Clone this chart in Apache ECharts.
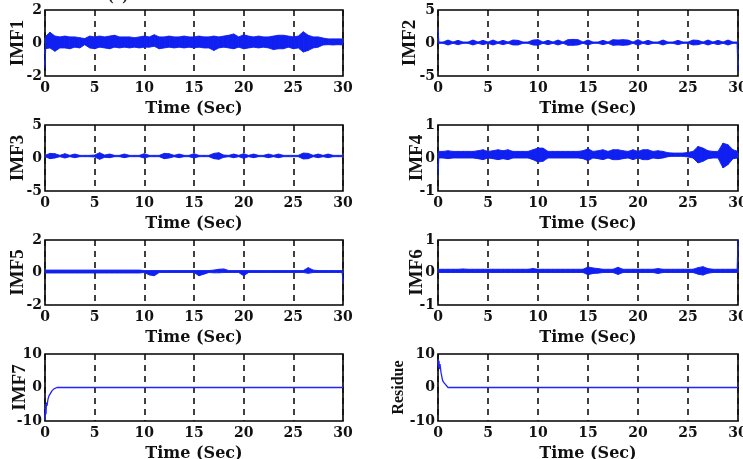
<!DOCTYPE html>
<html>
<head>
<meta charset="utf-8">
<script src="https://cdn.jsdelivr.net/npm/echarts@6/dist/echarts.min.js"></script>
<style>
  html, body { margin: 0; padding: 0; background: #fff; }
  #chart { width: 743px; height: 459px; }
</style>
</head>
<body>
<div id="chart"></div>
<script>
// Envelope sample spacing (seconds) of the oscillatory components, 0 … 30 s
const envStep = 0.5;

// IMF1 upper / lower envelope
const imf1Upper = [0.37, 0.65, 0.42, 0.37, 0.42, 0.37, 0.37, 0.32, 0.27, 0.42,
  0.37, 0.42, 0.37, 0.42, 0.47, 0.37, 0.37, 0.37, 0.32, 0.37,
  0.42, 0.37, 0.5, 0.37, 0.37, 0.42, 0.37, 0.37, 0.42, 0.37,
  0.37, 0.42, 0.37, 0.37, 0.42, 0.37, 0.42, 0.47, 0.55, 0.37,
  0.5, 0.42, 0.37, 0.42, 0.37, 0.37, 0.42, 0.47, 0.47, 0.42,
  0.37, 0.42, 0.68, 0.47, 0.37, 0.37, 0.3, 0.25, 0.25, 0.25, 0.25];
const imf1Lower = [-0.35, -0.3, -0.5, -0.3, -0.3, -0.35, -0.25, -0.3, -0.1, -0.3,
  -0.35, -0.25, -0.3, -0.35, -0.25, -0.3, -0.25, -0.3, -0.25, -0.3,
  -0.25, -0.25, -0.2, -0.35, -0.3, -0.25, -0.3, -0.25, -0.3, -0.25,
  -0.3, -0.25, -0.3, -0.3, -0.45, -0.3, -0.25, -0.3, -0.35, -0.25,
  -0.35, -0.3, -0.25, -0.3, -0.25, -0.3, -0.4, -0.35, -0.35, -0.25,
  -0.35, -0.3, -0.55, -0.45, -0.3, -0.25, -0.12, -0.1, -0.12, -0.1, -0.12];

// IMF2 upper / lower envelope
const imf2Upper = [0.15, 0.15, 0.45, 0.15, 0.4, 0.15, 0.15, 0.45, 0.15, 0.4,
  0.15, 0.45, 0.15, 0.4, 0.15, 0.45, 0.4, 0.15, 0.15, 0.45,
  0.5, 0.15, 0.4, 0.15, 0.45, 0.15, 0.5, 0.55, 0.5, 0.15,
  0.45, 0.15, 0.15, 0.4, 0.15, 0.5, 0.45, 0.5, 0.45, 0.15,
  0.5, 0.15, 0.4, 0.15, 0.15, 0.45, 0.15, 0.15, 0.4, 0.15,
  0.15, 0.45, 0.4, 0.15, 0.45, 0.15, 0.4, 0.15, 0.45, 0.15, 0.15];
const imf2Lower = [-0.05, -0.05, -0.3, -0.05, -0.25, -0.05, -0.05, -0.3, -0.05, -0.25,
  -0.05, -0.3, -0.05, -0.25, -0.05, -0.3, -0.3, -0.05, -0.05, -0.3,
  -0.35, -0.05, -0.25, -0.05, -0.3, -0.05, -0.35, -0.35, -0.3, -0.05,
  -0.3, -0.05, -0.05, -0.25, -0.05, -0.35, -0.3, -0.35, -0.3, -0.05,
  -0.35, -0.05, -0.25, -0.05, -0.05, -0.3, -0.05, -0.05, -0.25, -0.05,
  -0.05, -0.3, -0.25, -0.05, -0.3, -0.05, -0.25, -0.05, -0.3, -0.05, -0.05];

// IMF3 upper / lower envelope
const imf3Upper = [0.4, 0.7, 0.65, 0.4, 0.65, 0.4, 0.6, 0.4, 0.4, 0.4,
  0.45, 0.8, 0.45, 0.6, 0.4, 0.4, 0.6, 0.4, 0.4, 0.4,
  0.65, 0.4, 0.4, 0.4, 0.7, 0.65, 0.4, 0.6, 0.4, 0.4,
  0.65, 0.4, 0.4, 0.4, 0.7, 0.8, 0.45, 0.4, 0.6, 0.4,
  0.65, 0.4, 0.6, 0.4, 0.4, 0.6, 0.4, 0.6, 0.4, 0.4,
  0.4, 0.4, 0.75, 0.7, 0.4, 0.6, 0.4, 0.6, 0.4, 0.4, 0.4];
const imf3Lower = [0.2, -0.1, 0.0, 0.2, 0.0, 0.2, 0.05, 0.2, 0.2, 0.2,
  0.15, -0.2, 0.1, 0.05, 0.2, 0.2, 0.05, 0.2, 0.2, 0.2,
  0.0, 0.2, 0.2, 0.2, -0.1, 0.0, 0.2, 0.05, 0.2, 0.2,
  0.0, 0.2, 0.2, 0.2, -0.1, -0.2, 0.1, 0.2, 0.05, 0.2,
  -0.05, 0.2, 0.05, 0.2, 0.2, 0.05, 0.2, 0.05, 0.2, 0.2,
  0.2, 0.2, -0.15, -0.1, 0.2, 0.05, 0.2, 0.05, 0.2, 0.2, 0.2];

// IMF4 upper / lower envelope
const imf4Upper = [0.2, 0.2, 0.22, 0.2, 0.2, 0.2, 0.2, 0.2, 0.22, 0.25,
  0.2, 0.22, 0.25, 0.22, 0.25, 0.2, 0.2, 0.2, 0.2, 0.25,
  0.3, 0.3, 0.2, 0.2, 0.2, 0.2, 0.2, 0.2, 0.2, 0.22,
  0.28, 0.2, 0.22, 0.25, 0.2, 0.25, 0.25, 0.22, 0.2, 0.25,
  0.2, 0.25, 0.25, 0.2, 0.22, 0.2, 0.16, 0.15, 0.15, 0.15,
  0.17, 0.2, 0.35, 0.3, 0.22, 0.2, 0.2, 0.45, 0.4, 0.25, 0.2];
const imf4Lower = [0.0, 0.0, -0.02, 0.0, 0.0, 0.0, 0.0, 0.0, -0.02, -0.05,
  0.0, -0.02, -0.05, -0.02, -0.05, 0.0, 0.0, 0.0, 0.0, -0.05,
  -0.12, -0.1, 0.0, 0.0, 0.0, 0.0, 0.0, 0.0, 0.0, -0.02,
  -0.08, 0.0, -0.02, -0.05, 0.0, -0.05, -0.05, -0.02, 0.0, -0.05,
  0.0, -0.05, -0.05, 0.0, -0.02, 0.0, 0.04, 0.05, 0.05, 0.05,
  0.03, 0.0, -0.15, -0.1, -0.02, 0.0, 0.0, -0.3, -0.2, -0.02, 0.0];

// IMF5 upper / lower envelope
const imf5Upper = [0.15, 0.15, 0.15, 0.15, 0.15, 0.15, 0.15, 0.15, 0.15, 0.15,
  0.15, 0.15, 0.15, 0.15, 0.15, 0.15, 0.15, 0.15, 0.15, 0.15,
  0.12, 0.12, 0.12, 0.12, 0.12, 0.12, 0.12, 0.12, 0.12, 0.12,
  0.12, 0.12, 0.12, 0.12, 0.15, 0.2, 0.22, 0.12, 0.12, 0.12,
  0.12, 0.12, 0.12, 0.12, 0.12, 0.12, 0.12, 0.12, 0.12, 0.12,
  0.12, 0.12, 0.12, 0.3, 0.15, 0.12, 0.12, 0.12, 0.12, 0.12, 0.12];
const imf5Lower = [-0.03, -0.03, -0.03, -0.03, -0.03, -0.03, -0.03, -0.03, -0.03, -0.03,
  -0.03, -0.03, -0.03, -0.03, -0.03, -0.03, -0.03, -0.03, -0.03, -0.03,
  0.0, -0.15, -0.2, 0.0, 0.0, 0.0, 0.0, 0.0, 0.0, 0.0,
  0.0, -0.2, -0.1, 0.0, -0.02, -0.02, 0.0, 0.0, 0.0, 0.0,
  -0.2, 0.0, 0.0, 0.0, 0.0, 0.0, 0.0, 0.0, 0.0, 0.0,
  0.0, 0.0, 0.0, -0.05, 0.0, 0.0, 0.0, 0.0, 0.0, 0.0, 0.0];

// IMF6 upper / lower envelope
const imf6Upper = [0.1, 0.1, 0.1, 0.1, 0.1, 0.11, 0.1, 0.1, 0.1, 0.1,
  0.1, 0.1, 0.1, 0.1, 0.1, 0.1, 0.1, 0.1, 0.1, 0.12,
  0.1, 0.1, 0.1, 0.1, 0.1, 0.1, 0.1, 0.1, 0.1, 0.1,
  0.17, 0.14, 0.12, 0.1, 0.1, 0.1, 0.16, 0.1, 0.1, 0.1,
  0.1, 0.1, 0.1, 0.1, 0.12, 0.1, 0.1, 0.1, 0.1, 0.1,
  0.1, 0.1, 0.15, 0.18, 0.12, 0.1, 0.1, 0.1, 0.1, 0.1, 0.1];
const imf6Lower = [0.0, 0.0, 0.0, 0.0, 0.0, 0.0, 0.0, 0.0, 0.0, 0.0,
  0.0, 0.0, 0.0, 0.0, 0.0, 0.0, 0.0, 0.0, 0.0, 0.0,
  0.0, 0.0, 0.0, 0.0, 0.0, 0.0, 0.0, 0.0, 0.0, 0.0,
  -0.07, -0.03, -0.02, 0.0, 0.0, 0.0, -0.06, 0.0, 0.0, 0.0,
  0.0, 0.0, 0.0, 0.0, -0.03, 0.0, 0.0, 0.0, 0.0, 0.0,
  0.0, 0.0, -0.05, -0.08, -0.02, 0.0, 0.0, 0.0, 0.0, 0.0, 0.0];

// Short start / end transients of the oscillatory components
const startTimes = [0, 0.08];
const endTimes = [29.92, 30];
const imf1Start = [-1.5, 0.05];
const imf2Start = [2.0, 0.05];
const imf2End = [0.05, -4.3];
const imf4Start = [-0.5, 0.1];
const imf5End = [0.05, -0.6];
const imf6End = [0.05, 1.0];

// Slow components: explicit (time, value) samples
const imf7Time = [0, 0.05, 0.1, 0.15, 0.2, 0.3, 0.4, 0.5, 0.7, 0.9, 1.2, 30];
const imf7Vals = [-9.5, -6, -8, -4.5, -5.5, -3.5, -2.5, -2.0, -1.0, -0.4, 0, 0];
const residueTime = [0, 0.05, 0.1, 0.15, 0.2, 0.3, 0.45, 0.55, 0.65, 1.0, 30];
const residueVals = [8.5, 6, 8, 5.5, 7, 4.5, 2.2, 1.6, 1.3, 0, 0];

const xTicks = { min: 0, max: 30, step: 5 };
const panelNames = ['IMF1', 'IMF2', 'IMF3', 'IMF4', 'IMF5', 'IMF6', 'IMF7', 'Residue'];
const panelLimits = [2, 5, 5, 1, 2, 1, 10, 10];

const bands = [
  [imf1Upper, imf1Lower], [imf2Upper, imf2Lower], [imf3Upper, imf3Lower],
  [imf4Upper, imf4Lower], [imf5Upper, imf5Lower], [imf6Upper, imf6Lower]
];
const transients = [
  [[startTimes, imf1Start]],
  [[startTimes, imf2Start], [endTimes, imf2End]],
  [],
  [[startTimes, imf4Start]],
  [[endTimes, imf5End]],
  [[endTimes, imf6End]]
];
const slow = [[imf7Time, imf7Vals], [residueTime, residueVals]];

const BLUE = '#1020f0';
const THIN_BLUE = '#2323ff';

// Panel frames: 4 rows x 2 columns
const colLeft = [45, 438];
const colWidth = [298, 300];
const rowTop = [10, 125, 240, 354];
const rowHeight = [66, 66, 65, 67];
const nameGaps = [17, 18, 17, 11, 17, 11, 15, 31];
const nameSizes = [19, 19, 19, 19, 19, 19, 19, 16];

const grids = [], xAxes = [], yAxes = [], series = [];
const tickFont = { fontFamily: 'DejaVu Serif', fontWeight: 'bold', fontSize: 14, color: '#111' };

const pairs = (ts, vs) => ts.map((t, i) => [t, vs[i]]);

// Filled envelope band: each item [t, lower, upper] draws the quad to the next sample
function bandRenderer(rows) {
  return function (params, api) {
    const i = params.dataIndex;
    if (i >= rows.length - 1) return null;
    const a = rows[i], b = rows[i + 1];
    const pts = [
      api.coord([a[0], a[2]]), api.coord([b[0], b[2]]),
      api.coord([b[0], b[1]]), api.coord([a[0], a[1]])
    ];
    return {
      type: 'polygon',
      shape: { points: pts },
      style: { fill: BLUE, stroke: BLUE, lineWidth: 0.9 }
    };
  };
}

for (let k = 0; k < 8; k++) {
  const r = Math.floor(k / 2), c = k % 2;
  grids.push({
    left: colLeft[c], top: rowTop[r], width: colWidth[c], height: rowHeight[r],
    outerBoundsMode: 'none', containLabel: false,
    show: true, borderColor: '#000', borderWidth: 1.6, backgroundColor: '#fff'
  });
  xAxes.push({
    gridIndex: k, type: 'value', min: xTicks.min, max: xTicks.max, interval: xTicks.step,
    axisLine: { show: false }, axisTick: { show: false },
    axisLabel: Object.assign({ margin: 5 }, tickFont),
    splitLine: { show: true, lineStyle: { color: '#111', width: 1.6, type: [6, 5] } },
    name: 'Time (Sec)', nameLocation: 'middle', nameGap: 25, nameMoveOverlap: false,
    nameTextStyle: { fontFamily: 'DejaVu Serif', fontWeight: 'bold', fontSize: 16, color: '#111' }
  });
  const m = panelLimits[k];
  yAxes.push({
    gridIndex: k, type: 'value', min: -m, max: m, interval: m,
    axisLine: { show: false }, axisTick: { show: false }, splitLine: { show: false },
    axisLabel: Object.assign({ margin: 3 }, tickFont),
    name: panelNames[k], nameLocation: 'middle', nameRotate: 90, nameGap: nameGaps[k],
    nameMoveOverlap: false,
    nameTextStyle: { fontFamily: 'Liberation Serif', fontWeight: 'bold', fontSize: nameSizes[k], color: '#111' }
  });

  if (k < 6) {
    const [upper, lower] = bands[k];
    const rows = upper.map((u, i) => [i * envStep, lower[i], u]);
    series.push({
      type: 'custom', xAxisIndex: k, yAxisIndex: k, data: rows,
      encode: { x: 0, y: [1, 2] }, renderItem: bandRenderer(rows),
      silent: true, z: 3, clip: true
    });
    transients[k].forEach(([ts, vs]) => {
      series.push({
        type: 'line', xAxisIndex: k, yAxisIndex: k, data: pairs(ts, vs),
        showSymbol: false, silent: true, z: 4,
        lineStyle: { color: BLUE, width: 1.2 }
      });
    });
  } else {
    const [ts, vs] = slow[k - 6];
    series.push({
      type: 'line', xAxisIndex: k, yAxisIndex: k, data: pairs(ts, vs),
      showSymbol: false, silent: true, z: 3,
      lineStyle: { color: THIN_BLUE, width: 1.3 }
    });
  }
}

const chart = echarts.init(document.getElementById('chart'), null, { renderer: 'canvas' });
chart.setOption({
  animation: false,
  backgroundColor: '#fff',
  grid: grids,
  xAxis: xAxes,
  yAxis: yAxes,
  series: series,
  graphic: [{
    type: 'text', left: 108, top: -13,
    style: { text: '(a)', font: 'bold 17px "Liberation Serif"', fill: '#222' }
  }]
});
</script>
</body>
</html>
